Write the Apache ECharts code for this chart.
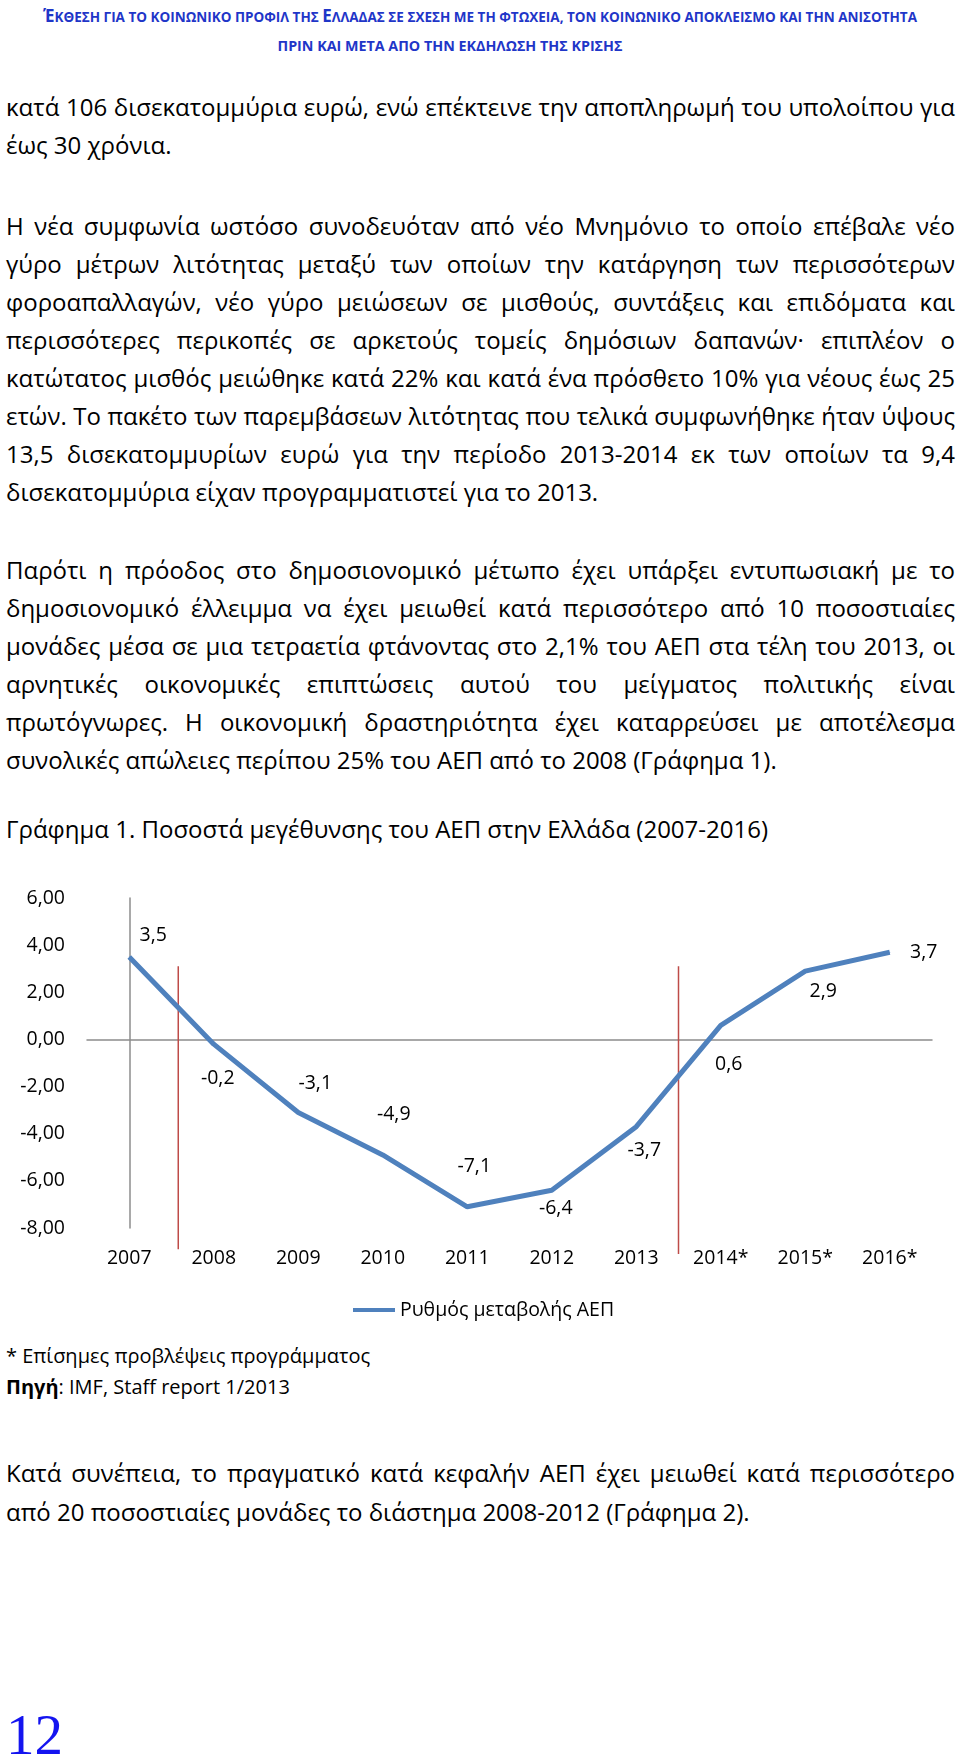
<!DOCTYPE html>
<html lang="el">
<head>
<meta charset="utf-8">
<title>Γράφημα 1</title>
<script src="https://cdn.jsdelivr.net/npm/echarts@6/dist/echarts.min.js"></script>
<style>
  html, body { margin: 0; padding: 0; background: #fff; }
  body { width: 960px; height: 1763px; position: relative; overflow: hidden; font-family: 'Open Sans', sans-serif; color: #000; }
  .hdr { position: absolute; left: 0; width: 960px; text-align: center; color: #1f36c8; font-weight: bold; font-size: 13.5px; white-space: nowrap; }
  .hdr .cap { font-size: 17px; }
  .p { position: absolute; left: 6px; width: 949px; font-size: 24px; }
  .l { white-space: nowrap; height: 38px; line-height: 38px; }
  .j { text-align: justify; text-align-last: justify; }
  .note { position: absolute; left: 6px; font-size: 20px; line-height: 31px; white-space: nowrap; }
  #chart { position: absolute; left: 0; top: 860px; width: 960px; height: 470px; }
  .pg { position: absolute; left: 6px; top: 1703px; font-family: 'Liberation Serif', serif; font-size: 57px; line-height: 64px; color: #1414f0; }
</style>
</head>
<body>
<div class="hdr" style="top:5px;line-height:22px"><span class="cap">Έ</span>ΚΘΕΣΗ ΓΙΑ ΤΟ ΚΟΙΝΩΝΙΚΟ ΠΡΟΦΙΛ ΤΗΣ <span class="cap">Ε</span>ΛΛΑΔΑΣ ΣΕ ΣΧΕΣΗ ΜΕ ΤΗ ΦΤΩΧΕΙΑ, ΤΟΝ ΚΟΙΝΩΝΙΚΟ ΑΠΟΚΛΕΙΣΜΟ ΚΑΙ ΤΗΝ ΑΝΙΣΟΤΗΤΑ</div>
<div class="hdr" style="top:35px;line-height:22px;width:900px;font-size:14.3px">ΠΡΙΝ ΚΑΙ ΜΕΤΑ ΑΠΟ ΤΗΝ ΕΚΔΗΛΩΣΗ ΤΗΣ ΚΡΙΣΗΣ</div>

<div class="p" style="top:88px">
  <div class="l j">κατά 106 δισεκατομμύρια ευρώ, ενώ επέκτεινε την αποπληρωμή του υπολοίπου για</div>
  <div class="l">έως 30 χρόνια.</div>
</div>

<div class="p" style="top:207px">
  <div class="l j">Η νέα συμφωνία ωστόσο συνοδευόταν από νέο Μνημόνιο το οποίο επέβαλε νέο</div>
  <div class="l j">γύρο μέτρων λιτότητας μεταξύ των οποίων την κατάργηση των περισσότερων</div>
  <div class="l j">φοροαπαλλαγών, νέο γύρο μειώσεων σε μισθούς, συντάξεις και επιδόματα και</div>
  <div class="l j">περισσότερες περικοπές σε αρκετούς τομείς δημόσιων δαπανών· επιπλέον ο</div>
  <div class="l j">κατώτατος μισθός μειώθηκε κατά 22% και κατά ένα πρόσθετο 10% για νέους έως 25</div>
  <div class="l j">ετών. Το πακέτο των παρεμβάσεων λιτότητας που τελικά συμφωνήθηκε ήταν ύψους</div>
  <div class="l j">13,5 δισεκατομμυρίων ευρώ για την περίοδο 2013-2014 εκ των οποίων τα 9,4</div>
  <div class="l">δισεκατομμύρια είχαν προγραμματιστεί για το 2013.</div>
</div>

<div class="p" style="top:551px">
  <div class="l j">Παρότι η πρόοδος στο δημοσιονομικό μέτωπο έχει υπάρξει εντυπωσιακή με το</div>
  <div class="l j">δημοσιονομικό έλλειμμα να έχει μειωθεί κατά περισσότερο από 10 ποσοστιαίες</div>
  <div class="l j">μονάδες μέσα σε μια τετραετία φτάνοντας στο 2,1% του ΑΕΠ στα τέλη του 2013, οι</div>
  <div class="l j">αρνητικές οικονομικές επιπτώσεις αυτού του μείγματος πολιτικής είναι</div>
  <div class="l j">πρωτόγνωρες. Η οικονομική δραστηριότητα έχει καταρρεύσει με αποτέλεσμα</div>
  <div class="l">συνολικές απώλειες περίπου 25% του ΑΕΠ από το 2008 (Γράφημα 1).</div>
</div>

<div class="p" style="top:810px">
  <div class="l">Γράφημα 1. Ποσοστά μεγέθυνσης του ΑΕΠ στην Ελλάδα (2007-2016)</div>
</div>

<div id="chart"></div>

<div class="note" style="top:1340px">* Επίσημες προβλέψεις προγράμματος</div>
<div class="note" style="top:1371px"><b>Πηγή</b>: IMF, Staff report 1/2013</div>

<div class="p" style="top:1453px">
  <div class="l j" style="height:39px;line-height:39px">Κατά συνέπεια, το πραγματικό κατά κεφαλήν ΑΕΠ έχει μειωθεί κατά περισσότερο</div>
  <div class="l" style="height:39px;line-height:39px">από 20 ποσοστιαίες μονάδες το διάστημα 2008-2012 (Γράφημα 2).</div>
</div>

<div class="pg">12</div>

<script>
// categories and values (GDP growth, %)
const years = ['2007', '2008', '2009', '2010', '2011', '2012', '2013', '2014*', '2015*', '2016*'];
const gdpGrowth = [3.5, -0.2, -3.1, -4.9, -7.1, -6.4, -3.7, 0.6, 2.9, 3.7];
const seriesName = 'Ρυθμός μεταβολής ΑΕΠ';
const yMin = -8, yMax = 6, yStep = 2;

// the two red divider lines (x in category units, y range in axis values)
const dividerX = [0.58, 6.5];
const dividerTop = [3.1, 3.1];
const dividerBottom = [-8.9, -9.1];

// where each data label sits relative to its point (px)
const labelOffsets = [[24, -21], [4, 34], [17, -29], [11, -40], [7, -40], [4, 18], [8, 24], [8, 39], [18, 20], [34, 0]];

const comma = v => String(v).replace('.', ',');
const font = 'Open Sans';

const chart = echarts.init(document.getElementById('chart'));

const dividers = dividerX.map((x, i) => ({
  type: 'line',
  xAxisIndex: 1,
  data: [[x, dividerTop[i]], [x, dividerBottom[i]]],
  symbol: 'none',
  clip: false,
  silent: true,
  lineStyle: { color: '#be4b48', width: 1.5 },
  z: 1
}));

chart.setOption({
  animation: false,
  textStyle: { fontFamily: font },
  grid: { left: 87, right: 28, top: 38, bottom: 102 },
  legend: {
    data: [seriesName],
    left: 348,
    top: 435,
    icon: 'rect',
    itemWidth: 42,
    itemHeight: 4,
    itemGap: 4,
    textStyle: { fontFamily: font, fontSize: 19.5, color: '#000' }
  },
  xAxis: [
    {
      type: 'category',
      data: years,
      boundaryGap: true,
      axisLine: { show: false, onZero: false },
      axisTick: { show: false },
      axisLabel: { fontFamily: font, fontSize: 19.5, color: '#000', margin: 20 }
    },
    {
      // hidden value axis: carries the zero line and the dividers
      type: 'value',
      min: -0.5,
      max: 9.5,
      position: 'bottom',
      axisLine: { show: true, onZero: true, lineStyle: { color: '#8c8c8c', width: 1.5 } },
      axisTick: { show: false },
      axisLabel: { show: false },
      splitLine: { show: false }
    }
  ],
  yAxis: {
    type: 'value',
    min: yMin,
    max: yMax,
    interval: yStep,
    axisLine: { show: true, lineStyle: { color: '#8c8c8c', width: 1.5 } },
    axisTick: { show: false },
    splitLine: { show: false },
    axisLabel: {
      fontFamily: font, fontSize: 19.5, color: '#000', margin: 22,
      formatter: v => v.toFixed(2).replace('.', ',')
    }
  },
  series: [
    ...dividers,
    {
      name: seriesName,
      type: 'line',
      data: gdpGrowth.map((v, i) => ({ value: v, label: { offset: labelOffsets[i] } })),
      symbol: 'circle',
      symbolSize: 1,
      showSymbol: true,
      itemStyle: { color: '#4f81bd' },
      lineStyle: { color: '#4f81bd', width: 5 },
      label: {
        show: true,
        position: 'inside',
        fontFamily: font,
        fontSize: 19.5,
        color: '#000',
        formatter: p => comma(p.value)
      },
      z: 3
    }
  ]
});

// squeeze justified lines that are wider than their box
function fitLines() {
  const ctx = document.createElement('canvas').getContext('2d');
  document.querySelectorAll('.l.j').forEach(el => {
    const cs = getComputedStyle(el);
    ctx.font = cs.fontSize + ' "Open Sans"';
    const w = ctx.measureText(el.textContent).width;
    const box = el.clientWidth;
    if (w > box) {
      el.style.letterSpacing = ((box - w) / el.textContent.length - 0.05) + 'px';
    }
  });
}
if (document.fonts && document.fonts.ready) document.fonts.ready.then(fitLines); else fitLines();
</script>
</body>
</html>
